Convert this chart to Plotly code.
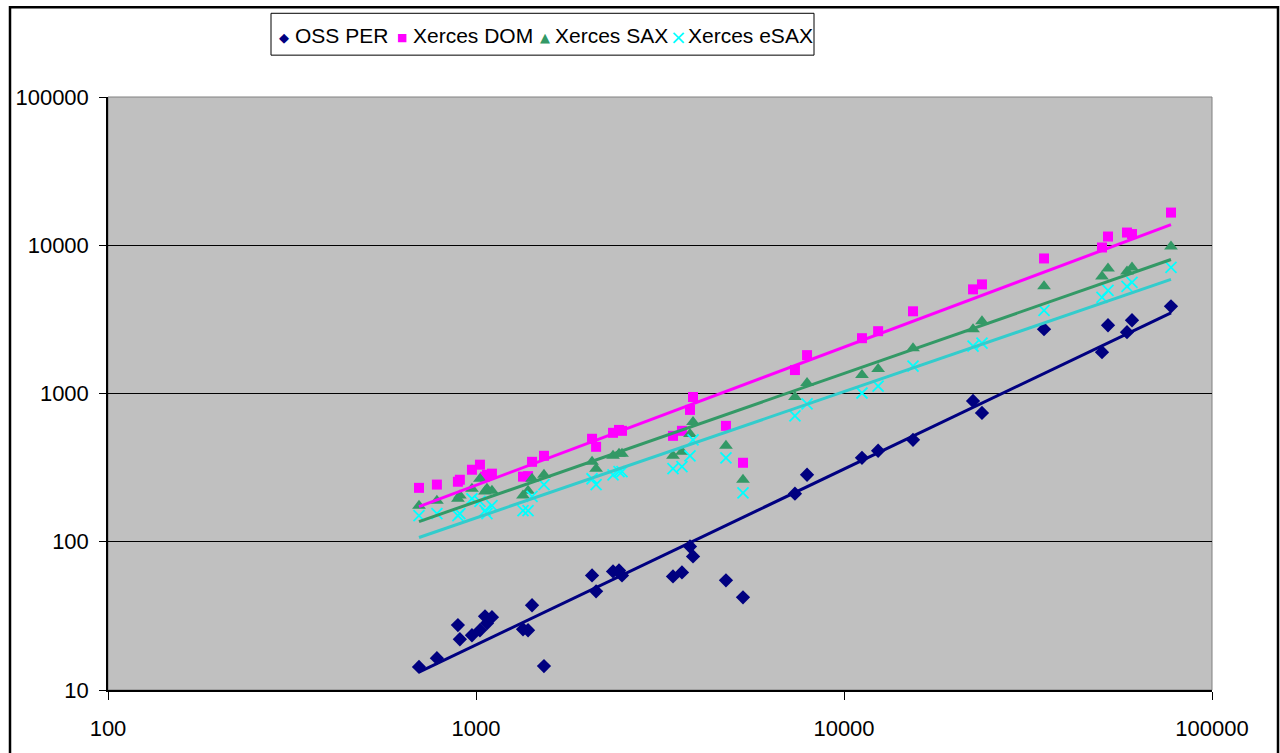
import plotly.graph_objects as go

# file sizes (x) shared by all series
sizes = [700, 783, 893, 904, 975, 1025, 1058, 1071, 1105, 1342, 1385, 1420, 1530,
         2067, 2120, 2357, 2447, 2493, 3430, 3628, 3815, 3888, 4778, 5315,
         7357, 7936, 11190, 12380, 15400, 22420, 23710, 34960, 50240, 52170,
         58750, 60620, 77370]

oss_per = [14.3, 16.4, 27.4, 22.0, 23.4, 25.3, 31.4, 28.2, 31.0, 25.7, 25.3, 37.3, 14.5,
           59.3, 46.3, 63.1, 64.1, 59.3, 58.4, 62.1, 92.9, 79.6, 54.9, 42.2,
           211, 283, 368, 411, 487, 890, 739, 2714, 1901, 2887, 2591, 3120, 3873]

xerces_dom = [231, 243, 254, 262, 306, 331, 275, 283, 288, 275, 277, 346, 380,
              495, 437, 543, 568, 560, 518, 560, 775, 947, 605, 341,
              1439, 1815, 2361, 2632, 3585, 5041, 5446, 8145, 9658, 11450, 12180, 11900, 16610]

xerces_sax = [175, 189, 195, 205, 228, 266, 218, 228, 221, 205, 221, 266, 283,
              346, 311, 380, 392, 392, 380, 404, 534, 643, 444, 262,
              947, 1177, 1332, 1461, 2022, 2714, 3073, 5283, 6166, 6978, 6661, 7088, 9809]

xerces_esax = [150, 155, 150, 155, 195, 187, 162, 155, 175, 162, 162, 202, 243,
               266, 243, 283, 297, 297, 311, 321, 380, 487, 368, 214,
               706, 850, 1008, 1123, 1530, 2086, 2185, 3642, 4454, 4964, 5283, 5618, 7088]

# power trendline end values (at first and last size)
trend_x = [700, 77370]
trend_oss = [13.2, 3500]
trend_dom = [172.6, 13790]
trend_sax = [136.8, 8017]
trend_esax = [106.8, 5886]

names = ["OSS PER", "Xerces DOM", "Xerces SAX", "Xerces eSAX"]
y_series = [oss_per, xerces_dom, xerces_sax, xerces_esax]
trend_series = [trend_oss, trend_dom, trend_sax, trend_esax]
marker_colors = ["#000080", "#FF00FF", "#339966", "#00FFFF"]
line_colors = ["#000080", "#FF00FF", "#339966", "#33CCCC"]
symbols = ["diamond", "square", "triangle-up", "x-thin"]
msizes = [11, 10, 12, 11]
legend_glyphs = ["\u25C6", "\u25A0", "\u25B2", "\u00D7"]
legend_glyph_sizes = [13, 11, 13, 20]

fig = go.Figure()
for name, ys, col, sym, ms in zip(names, y_series, marker_colors, symbols, msizes):
    marker = dict(symbol=sym, size=ms, color=col)
    if sym == "x-thin":
        marker["line"] = dict(color=col, width=1.8)
    else:
        marker["line"] = dict(width=0)
    fig.add_trace(go.Scatter(x=sizes, y=ys, mode="markers", name=name, marker=marker,
                             showlegend=False))

for ty, col in zip(trend_series, line_colors):
    fig.add_trace(go.Scatter(x=trend_x, y=ty, mode="lines", showlegend=False,
                             line=dict(color=col, width=3), hoverinfo="skip"))

L, R, T, B = 108, 1212, 97, 692
W, H = 1280, 753
pw, ph = R - L, B - T


def px(xp):
    return (xp - L) / pw


def py(yp):
    return (B - yp) / ph


# custom legend layout (pixel positions in the page)
leg_box = (271, 814, 13, 55)
leg_glyph_x = [284, 402, 545, 678]
leg_text_x = [293, 411, 553, 686]
leg_y = 35

annotations = []
for gx, tx, name, col, g, gs in zip(leg_glyph_x, leg_text_x, names, marker_colors,
                                    legend_glyphs, legend_glyph_sizes):
    annotations.append(dict(xref="paper", yref="paper", x=px(gx), y=py(leg_y + 2),
                            xanchor="center", yanchor="middle", showarrow=False,
                            text=g, font=dict(size=gs, color=col,
                                              family="DejaVu Sans")))
    annotations.append(dict(xref="paper", yref="paper", x=px(tx), y=py(leg_y),
                            xanchor="left", yanchor="middle", showarrow=False,
                            text=name, font=dict(size=21, color="black")))

fig.update_layout(
    width=W, height=H,
    margin=dict(l=L, r=W - R, t=T, b=H - B, pad=0),
    paper_bgcolor="white",
    plot_bgcolor="#C0C0C0",
    font=dict(family="Liberation Sans, Arial, sans-serif", color="black", size=22),
    showlegend=False,
    xaxis=dict(type="log", range=[2, 5], tickvals=[100, 1000, 10000, 100000],
               ticktext=["100", "1000", "10000", "100000"],
               showgrid=False, zeroline=False, showline=True, linecolor="black", linewidth=1.5,
               ticks="outside", ticklen=8, tickcolor="black", tickwidth=1,
               tickfont=dict(size=22), ticklabelstandoff=10),
    yaxis=dict(type="log", range=[1, 5], tickvals=[10, 100, 1000, 10000, 100000],
               ticktext=["10", "100", "1000", "10000", "100000"],
               showgrid=True, gridcolor="black", gridwidth=1, zeroline=False,
               showline=True, linecolor="black", linewidth=1.5,
               ticks="outside", ticklen=7, tickcolor="black", tickwidth=1,
               tickfont=dict(size=22), ticklabelstandoff=6),
    shapes=[
        dict(type="rect", xref="paper", yref="paper", x0=0, x1=1, y0=0, y1=1,
             line=dict(color="#808080", width=1), layer="below"),
        dict(type="rect", xref="paper", yref="paper",
             x0=px(10), x1=px(1278), y0=py(790), y1=py(7),
             line=dict(color="black", width=2.5)),
        dict(type="rect", xref="paper", yref="paper",
             x0=px(leg_box[0]), x1=px(leg_box[1]), y0=py(leg_box[3]), y1=py(leg_box[2]),
             line=dict(color="black", width=1), fillcolor="white"),
    ],
    annotations=annotations,
)

fig.write_html("out.html")
